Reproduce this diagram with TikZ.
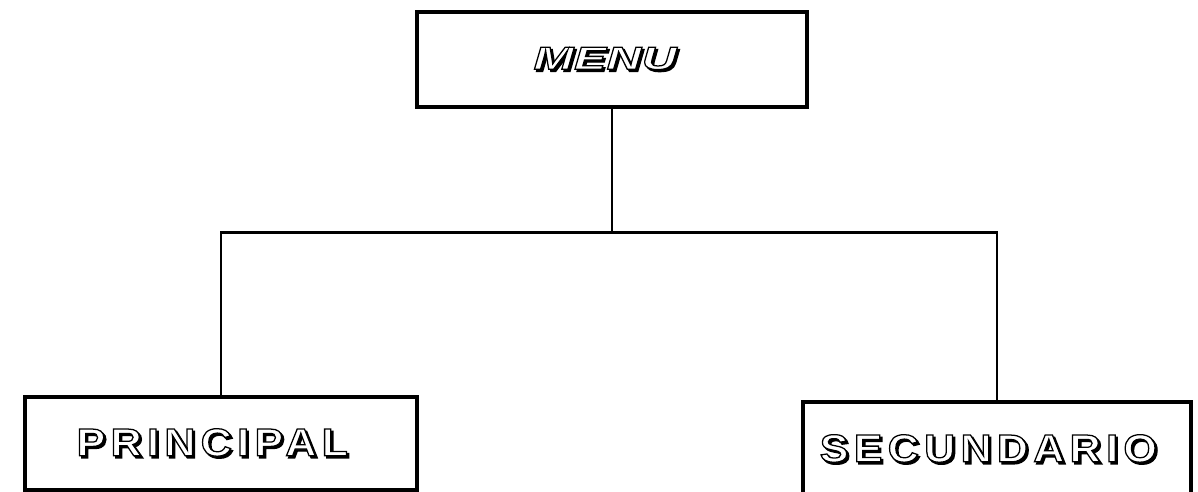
\documentclass[tikz,border=0pt]{standalone}
\usepackage{fontspec}
\usetikzlibrary{calc}
\newfontfamily\labelfont[LetterSpace=14,FakeStretch=1.1]{Liberation Sans}
\newfontfamily\menufont[LetterSpace=2,FakeStretch=1.5]{Liberation Sans}
\newcommand{\strokeon}{\special{pdf:literal direct 0 G 2 Tr 0.9 w}}
\newcommand{\strokeoff}{\special{pdf:literal direct 0 Tr}}
\newcommand{\hollowtext}[1]{%
  \leavevmode\rlap{\kern1.5pt\raisebox{-1.5pt}{\strokeon#1\strokeoff}}%
  {\color{white}\strokeon#1\strokeoff}}

\begin{document}
\begin{tikzpicture}[
  line width=2pt,
  menubox/.style={draw, line width=2.2pt, fill=white, align=center,
                  inner sep=0pt},
  conn/.style={line width=2pt}
]

\useasboundingbox (0,0) rectangle (29.95,-12.3);
\clip (0,0) rectangle (29.95,-12.3);

%% ── BOXES ────────────────────────────────────────────────────────────────────

\node[menubox, minimum width=9.75cm, minimum height=2.375cm] (menu) at (15.3,-1.4875) {
  \menufont\fontsize{22.7}{26}\selectfont\bfseries\itshape\hollowtext{MENU}
};

\node[menubox, minimum width=9.8cm, minimum height=2.325cm] (principal) at (5.525,-11.0875) {
  \labelfont\fontsize{27.7}{32}\selectfont\bfseries\hollowtext{PRINCIPAL}
};

\node[menubox, minimum width=9.7cm, minimum height=2.375cm] (secundario) at (24.925,-11.2375) {
  \labelfont\fontsize{27.7}{32}\selectfont\bfseries\hollowtext{SECUNDARIO}
};

%% ── CONNECTORS ───────────────────────────────────────────────────────────────

\coordinate (split) at ($(menu.south) + (0,-3.1)$);

\draw[conn] (menu.south) -- (split);
\draw[conn] (principal.north) |- (split) -| (secundario.north);

\end{tikzpicture}
\end{document}
